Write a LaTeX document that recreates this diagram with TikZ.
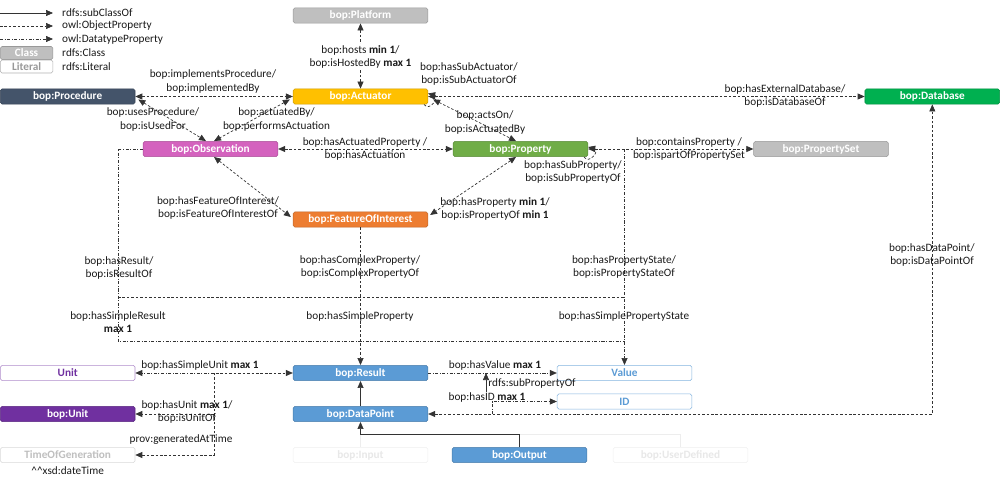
\documentclass[tikz,border=0pt]{standalone}
\usepackage{fontspec}
\setmainfont{Carlito}
\usetikzlibrary{arrows.meta,calc}

\definecolor{cProc}{HTML}{44546A}
\definecolor{cGray}{HTML}{BFBFBF}
\definecolor{cAct}{HTML}{FFC000}
\definecolor{cDb}{HTML}{00B050}
\definecolor{cProp}{HTML}{70AD47}
\definecolor{cObs}{HTML}{D462BE}
\definecolor{cFoi}{HTML}{ED7D31}
\definecolor{cUnit}{HTML}{7030A0}
\definecolor{cBlue}{HTML}{5B9BD5}

\tikzset{
  box/.style={rounded corners=1.5pt, minimum width=40.4mm, minimum height=4.6mm,
    inner sep=0pt, line width=0.5pt, font=\bfseries\fontsize{9.6}{11}\selectfont},
  cls/.style={box, fill=#1, draw=#1!80!black, text=white},
  lit/.style={box, fill=white, draw=#1},
  lbl/.style={font=\fontsize{9.6}{11.1}\selectfont, align=center, inner sep=0pt, text=black!90},
  link/.style={draw=black!80, line width=0.6pt},
  op/.style={link, dash pattern=on 2.2pt off 1.6pt},
  dp/.style={link, dash pattern=on 2.6pt off 1.4pt on 0.7pt off 1.4pt},
  sub/.style={link},
  faint/.style={draw=black!7, line width=0.6pt},
}

\begin{document}
\begin{tikzpicture}[x=0.3mm, y=-0.3mm, >={Triangle[length=2.1mm,width=1.8mm]}]
\useasboundingbox (0,0) rectangle (1000,484);

% ---------- legend ----------
\node[lbl, anchor=west] (lg1) at (62,13) {rdfs:subClassOf};
\node[lbl, anchor=west] (lg2) at (62,26) {owl:ObjectProperty};
\node[lbl, anchor=west] (lg3) at (62,39) {owl:DatatypeProperty};
\node[lbl, anchor=west] (lg4) at (62,53) {rdfs:Class};
\node[lbl, anchor=west] (lg5) at (62,66.5) {rdfs:Literal};
\coordinate (lg1s) at (0,13);
\coordinate (lg2s) at (0,26);
\coordinate (lg3s) at (0,39);
\draw[sub,->] (lg1s) -- ($(lg1.west)+(-9,0)$);
\draw[op,->] (lg2s) -- ($(lg2.west)+(-9,0)$);
\draw[dp,->] (lg3s) -- ($(lg3.west)+(-9,0)$);
\node[cls=cGray, minimum width=15.8mm, minimum height=3.9mm] (lgc) at (26.6,53) {Class};
\node[lit=black!30, text=black!40, minimum width=15.8mm, minimum height=3.9mm] (lgl) at (26.6,66.5) {Literal};

% ---------- classes ----------
\node[cls=cGray] (plat) at (360.5,15.5) {bop:Platform};
\node[cls=cAct]  (act)  at (360.5,96.5) {bop:Actuator};
\node[cls=cProc] (proc) at (67.7,96.5) {bop:Procedure};
\node[cls=cDb]   (db)   at (932.3,96.5) {bop:Database};
\node[cls=cObs]  (obs)  at (210.5,149) {bop:Observation};
\node[cls=cProp] (prop) at (520.5,149) {bop:Property};
\node[cls=cGray] (pset) at (821,149) {bop:PropertySet};
\node[cls=cFoi]  (foi)  at (360.5,219.5) {bop:FeatureOfInterest};
\node[cls=cBlue] (res)  at (360.5,373) {bop:Result};
\node[cls=cBlue] (dp)   at (360.5,414) {bop:DataPoint};
\node[cls=cBlue] (outp) at (519.5,455) {bop:Output};
\node[lit=black!6, text=black!9] (inp) at (360.5,455) {bop:Input};
\node[lit=black!6, text=black!9] (ud)  at (680.5,455) {bop:UserDefined};
\node[cls=cUnit] (bunit) at (67.7,414) {bop:Unit};
\node[lit=cUnit!55, text=cUnit] (unitL) at (67.7,373) {Unit};
\node[lit=black!15, text=black!25] (tog) at (67.7,455) {TimeOfGeneration};
\node[lit=cBlue!75, text=cBlue] (val) at (624.5,373) {Value};
\node[lit=cBlue!75, text=cBlue] (idn) at (624.5,401.5) {ID};

% ---------- object properties among the upper classes ----------
\draw[op,<->] (plat.south) -- (act.north);
\draw[op,<->] (proc.east) -- (act.west);
\draw[op,<->] (act.east) -- (db.west);
\draw[op,<->] (obs.east) -- (prop.west);
\draw[op,<->] (prop.east) -- (pset.west);
\draw[op,<->] ($(proc.south east)+(3,-5)$) -- ($(obs.north)+(-4.5,0)$);
\draw[op,<->] ($(act.south west)+(-3,-5)$) -- ($(obs.north)+(3.5,0)$);
\draw[op,<->] ($(act.south east)+(5,-5)$) -- ($(prop.north)+(-4.5,0)$);
\draw[op,<->] ($(prop.south)+(-4.5,0)$) -- ($(foi.east)+(2,-4.5)$);
\draw[op,<->] ($(obs.south)+(3.5,0)$) -- ($(foi.west)+(-2,-2.5)$);
% self references
\draw[op,->] ($(act.south east)+(-4,0)$) .. controls +(5,8) and +(12,3) .. ($(act.east)+(0,-3)$);
\draw[op,->] ($(prop.south east)+(-4,0)$) .. controls +(5,8) and +(12,3) .. ($(prop.east)+(0,-2)$);

% ---------- results and states ----------
\coordinate (hr)  at (118,149);
\coordinate (hr1) at (118,297);
\coordinate (hrb) at (118,341);
\coordinate (ps1) at (val.north |- prop.east);
\coordinate (ps2) at (val.north |- hr1);
\coordinate (ps3) at (val.north |- hrb);
\draw[dp] (obs.west) -- (hr) -- (hrb) -- (ps3);
\draw[op] (hr1) -- (ps2);
\draw[dp,->] (ps1) -- (val.north);
\draw[op,->] (foi.south) -- (res.north);

% ---------- units and time ----------
\coordinate (u1) at (214,373);
\coordinate (u2) at (214,414);
\draw[dp,->] (u1) -- (unitL.east);
\draw[op,->] (u2) -- (bunit.east);
\draw[op,<->] (tog.east) -| (u1) -- (res.west);

% ---------- values, identifiers, data points ----------
\draw[dp,->] (res.east) -- (val.west);
\coordinate (hid) at (492,414);
\draw[dp,->] (hid) |- (idn.west);
\coordinate (sp0) at (486,392);
\coordinate (sp1) at (486,373);
\draw[sub,->] (sp0) -- (sp1);
\draw[op,<->] (dp.east) -| (db.south);

% ---------- subclasses ----------
\coordinate (jdp) at (360.5,434);
\draw[faint] (ud.north) |- (jdp);
\draw[faint] (inp.north) -- (jdp);
\draw[sub,->] (dp.north) -- (res.south);
\draw[sub,->] (outp.north) |- (jdp) -- (dp.south);

% ---------- property labels ----------
\node[lbl, fill=white, inner sep=1pt] (l1) at (360.5,56.5) {bop:hosts \textbf{min 1}/\\bop:isHostedBy \textbf{max 1}};
\node[lbl] (l2) at (213,81.5) {bop:implementsProcedure/\\bop:implementedBy};
\node[lbl] (l3) at (469,74) {bop:hasSubActuator/\\bop:isSubActuatorOf};
\node[lbl] (l4) at (153,119.5) {bop:usesProcedure/\\bop:isUsedFor};
\node[lbl] (l5) at (276.5,119.5) {bop:actuatedBy/\\bop:performsActuation};
\node[lbl] (l6) at (485,122.5) {bop:actsOn/\\bop:isActuatedBy};
\node[lbl] (l7) at (785,96) {bop:hasExternalDatabase/\\bop:isDatabaseOf};
\node[lbl] (l8) at (365,149) {bop:hasActuatedProperty /\\bop:hasActuation};
\node[lbl] (l9) at (689,149) {bop:containsProperty /\\bop:ispartOfPropertySet};
\node[lbl] (l10) at (573,172) {bop:hasSubProperty/\\bop:isSubPropertyOf};
\node[lbl] (l11) at (218,207.5) {bop:hasFeatureOfInterest/\\bop:isFeatureOfInterestOf};
\node[lbl] (l12) at (495,208.5) {bop:hasProperty \textbf{min 1}/\\bop:isPropertyOf \textbf{min 1}};
\node[lbl] (l13) at (119,267.5) {bop:hasResult/\\bop:isResultOf};
\node[lbl] (l14) at (360,267) {bop:hasComplexProperty/\\bop:isComplexPropertyOf};
\node[lbl] (l15) at (624,266.5) {bop:hasPropertyState/\\bop:isPropertyStateOf};
\node[lbl] (l16) at (932,255) {bop:hasDataPoint/\\bop:isDataPointOf};
\node[lbl] (l17) at (118,322.5) {bop:hasSimpleResult\\\textbf{max 1}};
\node[lbl] (l18) at (360,316) {bop:hasSimpleProperty};
\node[lbl] (l19) at (624,316) {bop:hasSimplePropertyState};
\node[lbl] (l20) at (200,365) {bop:hasSimpleUnit \textbf{max 1}};
\node[lbl] (l21) at (187,411.5) {bop:hasUnit \textbf{max 1}/\\bop:isUnitOf};
\node[lbl] (l22) at (181,440) {prov:generatedAtTime};
\node[lbl] (l23) at (495,365) {bop:hasValue \textbf{max 1}};
\node[lbl] (l24) at (532,383) {rdfs:subPropertyOf};
\node[lbl] (l25) at (487,397) {bop:hasID \textbf{max 1}};
\node[lbl] (l26) at (67.7,471) {\string^\string^xsd:dateTime};
\end{tikzpicture}
\end{document}
